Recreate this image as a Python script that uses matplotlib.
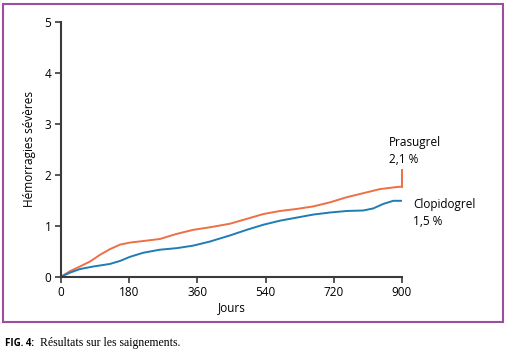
import matplotlib.pyplot as plt
from matplotlib.patches import Rectangle

# values (days, % severe bleeding)
days_pras = [0, 24, 50, 77, 103, 129, 156, 182, 217, 261, 305, 349, 393, 446,
             534, 578, 622, 666, 710, 754, 798, 842, 886, 900]
pras = [0, 0.11, 0.20, 0.30, 0.43, 0.54, 0.63, 0.67, 0.70, 0.74, 0.84, 0.92, 0.97, 1.04,
        1.23, 1.29, 1.33, 1.38, 1.46, 1.56, 1.64, 1.72, 1.76, 1.77]
days_clop = [0, 24, 50, 85, 129, 156, 182, 217, 261, 305, 349, 393, 446,
             490, 534, 578, 622, 666, 710, 754, 798, 824, 851, 877, 900]
clop = [0, 0.08, 0.15, 0.20, 0.25, 0.31, 0.39, 0.47, 0.53, 0.56, 0.61, 0.69, 0.81,
        0.92, 1.02, 1.10, 1.16, 1.22, 1.26, 1.29, 1.30, 1.34, 1.43, 1.49, 1.49]
pras_end = 2.1
x_ticks = [0, 180, 360, 540, 720, 900]
y_ticks = [0, 1, 2, 3, 4, 5]

orange = '#ee6f45'
blue = '#1f7cb4'
dark = '#3a3a3a'
purple = '#9b4f9e'

plt.rcParams['font.family'] = ['Open Sans', 'DejaVu Sans']

fig = plt.figure(figsize=(5.1, 3.57), dpi=100)
ax = fig.add_axes([61/510, 1 - 276.7/357, 341/510, (276.7 - 22)/357])

ax.plot(days_pras, pras, color=orange, lw=1.4, solid_joinstyle='round')
ax.plot([900, 900], [pras[-1], pras_end], color=orange, lw=1.4, clip_on=False)
ax.plot(days_clop, clop, color=blue, lw=1.4, solid_joinstyle='round')

ax.set_xlim(0, 900)
ax.set_ylim(0, 5)
ax.set_xticks(x_ticks)
ax.set_yticks(y_ticks)
ax.tick_params(labelsize=8.5, colors='black', length=4, width=1.2, color=dark, pad=3)
for s in ['top', 'right']:
    ax.spines[s].set_visible(False)
for s in ['left', 'bottom']:
    ax.spines[s].set_color(dark)
    ax.spines[s].set_linewidth(1.5)

ax.set_xlabel('Jours', fontsize=8.5, labelpad=1)
ax.set_ylabel('Hémorragies sévères', fontsize=8.5, labelpad=6)

ax.text(866, 2.64, 'Prasugrel', fontsize=8.5, ha='left', va='center', clip_on=False)
ax.text(866, 2.30, '2,1 %', fontsize=8.5, ha='left', va='center', clip_on=False)
ax.text(929, 1.41, 'Clopidogrel', fontsize=8.5, ha='left', va='center', clip_on=False)
ax.text(929, 1.08, '1,5 %', fontsize=8.5, ha='left', va='center', clip_on=False)

fig.patches.append(Rectangle((3.5/510, 1 - 322/357), 500/510, 318.5/357,
                             transform=fig.transFigure, fill=False,
                             edgecolor=purple, lw=1.5))

fig.text(5/510, 1 - 343/357, 'FIG. 4:', fontsize=7, fontweight='bold', va='center')
fig.text(40/510, 1 - 343/357, 'Résultats sur les saignements.', fontsize=8.5,
         family=['Liberation Serif', 'DejaVu Serif'], va='center')

fig.savefig('out.png', dpi=100)
